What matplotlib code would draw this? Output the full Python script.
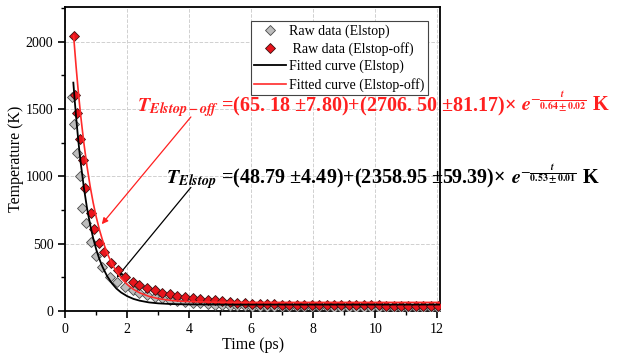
import matplotlib
matplotlib.use("Agg")
import matplotlib.pyplot as plt
from matplotlib.ticker import MultipleLocator

plt.rcParams['font.family'] = ['Liberation Serif', 'DejaVu Serif']
plt.rcParams['mathtext.fontset'] = 'stix'

# raw data, Elstop (gray diamonds)
t_elstop = [0.22, 0.28, 0.37, 0.46, 0.55, 0.66, 0.82, 0.99, 1.20, 1.44, 1.66, 1.93,
            2.17, 2.39, 2.64, 2.88, 3.13, 3.37, 3.62, 3.86, 4.11, 4.35, 4.59, 4.83,
            5.07, 5.31, 5.55, 5.79, 6.03, 6.27, 6.51, 6.75, 6.99, 7.23, 7.47, 7.71,
            7.95, 8.19, 8.43, 8.67, 8.91, 9.15, 9.39, 9.63, 9.87, 10.11, 10.35, 10.59,
            10.83, 11.07, 11.31, 11.55, 11.79, 12.03]
T_elstop = [1590, 1393, 1178, 1006, 769, 652, 513, 407, 327, 255, 216, 176,
            155, 138, 122, 108, 96, 86, 77, 70, 63, 57, 52, 48,
            44, 41, 38, 36, 34, 33, 32, 31, 30, 30, 29, 29,
            28, 28, 28, 27, 27, 27, 27, 27, 26, 26, 26, 26,
            26, 26, 26, 26, 26, 26]

# raw data, Elstop-off (red diamonds)
t_off = [0.28, 0.31, 0.39, 0.47, 0.56, 0.64, 0.82, 0.94, 1.10, 1.26, 1.48, 1.69,
         1.93, 2.17, 2.39, 2.64, 2.88, 3.13, 3.37, 3.62, 3.86, 4.11, 4.35, 4.59,
         4.83, 5.07, 5.31, 5.55, 5.79, 6.03, 6.27, 6.51, 6.75, 6.99, 7.23, 7.47,
         7.71, 7.95, 8.19, 8.43, 8.67, 8.91, 9.15, 9.39, 9.63, 9.87, 10.11, 10.35,
         10.59, 10.83, 11.07, 11.31, 11.55, 11.79, 12.03]
T_off = [2045, 1604, 1475, 1277, 1120, 917, 732, 613, 506, 439, 360, 308,
         253, 220, 196, 172, 154, 134, 124, 116, 104, 97, 89, 85,
         80, 74, 67, 62, 58, 55, 53, 51, 50, 49, 48, 47,
         46, 46, 45, 45, 44, 44, 44, 43, 43, 43, 43, 42,
         42, 42, 42, 42, 42, 42, 42]

# fitted curves
t_fit_elstop = [0.26, 0.30, 0.35, 0.40, 0.45, 0.50, 0.60, 0.70, 0.80, 0.90, 1.00, 1.10,
                1.20, 1.35, 1.50, 1.65, 1.80, 2.00, 2.20, 2.40, 2.70, 3.00, 3.40, 3.80,
                4.30, 5.0, 6.0, 8.0, 10.0, 12.1]
T_fit_elstop = [1697, 1577, 1440, 1315, 1200, 1097, 917, 767, 644, 542, 457, 387,
                329, 260, 208, 168, 139, 111, 91, 78, 65, 58, 53, 51,
                50, 49, 49, 49, 49, 49]
t_fit_off = [0.27, 0.30, 0.35, 0.40, 0.45, 0.50, 0.60, 0.70, 0.80, 0.90, 1.00, 1.10,
             1.20, 1.35, 1.50, 1.65, 1.80, 2.00, 2.20, 2.40, 2.70, 3.00, 3.40, 3.80,
             4.30, 5.0, 6.0, 8.0, 10.0, 12.1]
T_fit_off = [2045, 1955, 1813, 1681, 1560, 1447, 1248, 1077, 930, 805, 698, 606,
             528, 431, 355, 294, 246, 198, 162, 136, 110, 93, 80, 73,
             69, 66, 65, 65, 65, 65]

eq_off = r'$\mathbfit{T}_{\mathbfit{Elstop-off}}$ =(65. 18 ±7.80)+(2706. 50 ±81.17)×'
exp_off = r'$\mathbfit{e}^{-\frac{\mathbfit{t}}{\mathbf{0.64\pm0.02}}}$ K'
eq_elstop = r'$\mathbfit{T}_{\mathbfit{Elstop}}$ =(48.79 ±4.49)+(2358.95 ±59.39)×'
exp_elstop = r'$\mathbfit{e}^{-\frac{\mathbfit{t}}{\mathbf{0.53\pm0.01}}}$ K'

fig = plt.figure(figsize=(6.4, 3.54), dpi=100)
ax = fig.add_axes([0.102, 0.121, 0.586, 0.859])

ax.grid(True, color='#d0d0d0', linestyle='--', linewidth=0.7)
ax.set_axisbelow(True)

ax.plot(t_elstop, T_elstop, 'D', ms=4.8, mfc='#bdbdbd', mec='#4a4a4a', mew=0.6,
        label='Raw data (Elstop)', zorder=3)
ax.plot(t_off, T_off, 'D', ms=4.8, mfc='#e8141c', mec='#3a1010', mew=0.6,
        label=' Raw data (Elstop-off)', zorder=4)
ax.plot(t_fit_elstop, T_fit_elstop, '-', color='black', lw=1.3,
        label='Fitted curve (Elstop)', zorder=5)
ax.plot(t_fit_off, T_fit_off, '-', color='#ff2a2a', lw=1.2,
        label='Fitted curve (Elstop-off)', zorder=5)

ax.set_xlim(0, 12.1)
ax.set_ylim(0, 2258)
ax.xaxis.set_major_locator(MultipleLocator(2))
ax.xaxis.set_minor_locator(MultipleLocator(1))
ax.yaxis.set_major_locator(MultipleLocator(500))
ax.yaxis.set_minor_locator(MultipleLocator(250))
ax.tick_params(which='major', direction='out', length=5, width=1.2, labelsize=10)
ax.tick_params(which='minor', direction='out', length=3, width=1.0)
for s in ax.spines.values():
    s.set_linewidth(1.3)

ax.set_xlabel('Time (ps)', fontsize=11.5, labelpad=1)
ax.set_ylabel('Temperature (K)', fontsize=11.5, labelpad=1.5)

leg = ax.legend(loc='upper right', bbox_to_anchor=(0.967, 0.955), borderaxespad=0,
                fontsize=10, numpoints=1, handlelength=2.3, handletextpad=0.2,
                labelspacing=0.3, borderpad=0.25, fancybox=False, framealpha=1,
                edgecolor='#444444')
leg.get_frame().set_linewidth(0.8)

# equations: main part, then the exponential placed right after it
renderer = fig.canvas.get_renderer()
for eq, ex, x0, y0, col in [(eq_off, exp_off, 2.31, 1482, '#ff2020'),
                            (eq_elstop, exp_elstop, 3.25, 948, 'black')]:
    t1 = ax.text(x0, y0, eq, color=col, fontsize=14.5, fontweight='bold',
                 ha='left', va='baseline', clip_on=False, zorder=2)
    bb = t1.get_window_extent(renderer)
    x1 = ax.transData.inverted().transform((bb.x1 + 5, 0))[0]
    ax.text(x1, y0, ex, color=col, fontsize=14.5, fontweight='bold',
            ha='left', va='baseline', clip_on=False, zorder=2)

ax.annotate('', xy=(1.12, 630), xytext=(4.11, 1458),
            arrowprops=dict(arrowstyle='-|>', color='#ff2020', lw=0.9, mutation_scale=9))
ax.annotate('', xy=(1.6, 233), xytext=(4.11, 935),
            arrowprops=dict(arrowstyle='-|>', color='black', lw=0.9, mutation_scale=9))

fig.savefig('out.png', dpi=100)
